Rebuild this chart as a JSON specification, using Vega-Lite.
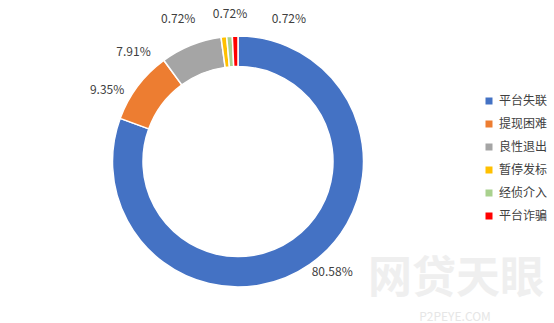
{
  "$schema": "https://vega.github.io/schema/vega-lite/v6.json",
  "width": 476,
  "height": 323,
  "autosize": {"type": "none"},
  "padding": {"left": 0, "top": 0, "right": 78, "bottom": 0},
  "background": "white",
  "config": {"view": {"stroke": null}, "font": "Noto Sans CJK SC"},
  "data": {
    "values": [
      {"category": "平台失联", "value": 80.58, "label": "80.58%"},
      {"category": "提现困难", "value": 9.35, "label": "9.35%"},
      {"category": "良性退出", "value": 7.91, "label": "7.91%"},
      {"category": "暂停发标", "value": 0.72, "label": "0.72%"},
      {"category": "经侦介入", "value": 0.72, "label": "0.72%"},
      {"category": "平台诈骗", "value": 0.72, "label": "0.72%"}
    ]
  },
  "transform": [{"window": [{"op": "row_number", "as": "idx"}]}],
  "encoding": {
    "theta": {"field": "value", "type": "quantitative", "stack": true},
    "order": {"field": "idx", "type": "quantitative"}
  },
  "layer": [
    {
      "mark": {"type": "arc", "outerRadius": 125.5, "innerRadius": 95, "stroke": "white", "strokeWidth": 1.5},
      "encoding": {
        "color": {
          "field": "category",
          "type": "nominal",
          "sort": ["平台失联", "提现困难", "良性退出", "暂停发标", "经侦介入", "平台诈骗"],
          "scale": {
            "domain": ["平台失联", "提现困难", "良性退出", "暂停发标", "经侦介入", "平台诈骗"],
            "range": ["#4472C4", "#ED7D31", "#A5A5A5", "#FFC000", "#A9D18E", "#FF0000"]
          },
          "legend": {
            "orient": "none",
            "legendX": 483,
            "legendY": 95,
            "title": null,
            "symbolType": "square",
            "symbolSize": 49,
            "symbolStrokeWidth": 0,
            "labelFontSize": 12,
            "labelColor": "#404040",
            "labelFont": "Noto Sans CJK SC",
            "labelOffset": 4,
            "rowPadding": 11
          }
        }
      }
    },
    {
      "mark": {
        "type": "text",
        "radius": 140,
        "dx": {"expr": "datum.idx == 1 ? 14 : datum.idx == 2 ? -19 : datum.idx == 3 ? -52 : datum.idx == 4 ? -44 : datum.idx == 5 ? 1.5 : 54"},
        "dy": {"expr": "datum.idx == 1 ? -4 : datum.idx == 2 ? 13 : datum.idx == 3 ? 20 : datum.idx == 4 ? -3 : datum.idx == 5 ? -8 : -2.5"},
        "fontSize": 12,
        "color": "#404040",
        "baseline": "middle"
      },
      "encoding": {"text": {"field": "label"}}
    },
    {
      "transform": [{"filter": "datum.idx == 1"}],
      "mark": {"type": "text", "text": "网贷天眼", "x": 456, "y": 280, "fontSize": 44, "fontWeight": "bold", "color": "#efefef", "baseline": "middle", "align": "center", "letterSpacing": 3},
      "encoding": {"theta": null, "order": null}
    },
    {
      "transform": [{"filter": "datum.idx == 1"}],
      "mark": {"type": "text", "text": "P2PEYE.COM", "x": 455, "y": 317, "fontSize": 12, "color": "#e6e6e6", "baseline": "middle", "align": "center", "letterSpacing": 9.5},
      "encoding": {"theta": null, "order": null}
    }
  ]
}
